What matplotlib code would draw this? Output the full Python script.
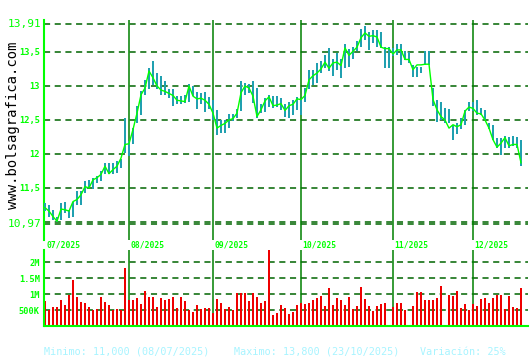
import matplotlib
matplotlib.use("Agg")
import matplotlib.pyplot as plt

# daily sessions 03/07/2025 .. 17/12/2025 (index 0..119)
closes = [
    11.21, 11.16, 11.08, 11.01, 11.19, 11.18, 11.16, 11.30, 11.33, 11.40,
    11.52, 11.50, 11.62, 11.65, 11.70, 11.82, 11.71, 11.77, 11.82, 11.94,
    12.14, 12.15, 12.36, 12.60, 12.87, 12.97, 13.22, 13.12, 13.00, 12.94,
    12.92, 12.89, 12.86, 12.79, 12.78, 12.77, 13.00, 12.85, 12.81, 12.82,
    12.79, 12.73, 12.60, 12.38, 12.42, 12.45, 12.50, 12.52, 12.60, 12.90,
    13.00, 12.97, 12.85, 12.55, 12.65, 12.78, 12.84, 12.71, 12.72, 12.74,
    12.64, 12.71, 12.73, 12.81, 12.80, 12.86, 13.09, 13.15, 13.19, 13.25,
    13.35, 13.26, 13.34, 13.35, 13.30, 13.56, 13.45, 13.51, 13.57, 13.71,
    13.78, 13.73, 13.74, 13.72, 13.57, 13.55, 13.55, 13.47, 13.53, 13.53,
    13.39, 13.39, 13.24, 13.31, 13.31, 13.32, 13.32, 12.80, 12.65, 12.55,
    12.50, 12.38, 12.43, 12.40, 12.43, 12.63, 12.69, 12.67, 12.60, 12.59,
    12.50, 12.38, 12.21, 12.10, 12.16, 12.24, 12.12, 12.14, 12.14, 11.87,
]
highs = [
    11.28, 11.25, 11.18, 11.08, 11.28, 11.29, 11.18, 11.30, 11.45, 11.45,
    11.60, 11.62, 11.65, 11.67, 11.75, 11.87, 11.87, 11.87, 11.89, 11.92,
    12.53, 12.19, 12.38, 12.70, 12.92, 13.09, 13.26, 13.36, 13.19, 13.14,
    13.07, 12.96, 12.96, 12.85, 12.85, 12.87, 13.03, 13.00, 12.91, 12.90,
    12.91, 12.84, 12.80, 12.65, 12.50, 12.50, 12.59, 12.59, 12.66, 13.08,
    13.04, 13.03, 13.07, 12.97, 12.73, 12.83, 12.86, 12.85, 12.85, 12.82,
    12.73, 12.77, 12.80, 12.84, 12.80, 12.97, 13.23, 13.23, 13.34, 13.36,
    13.45, 13.56, 13.39, 13.49, 13.39, 13.61, 13.54, 13.57, 13.66, 13.84,
    13.88, 13.80, 13.83, 13.83, 13.79, 13.58, 13.57, 13.56, 13.61, 13.62,
    13.51, 13.50, 13.31, 13.28, 13.28, 13.51, 13.51, 12.97, 12.80, 12.77,
    12.68, 12.66, 12.43, 12.45, 12.53, 12.65, 12.77, 12.77, 12.79, 12.68,
    12.65, 12.45, 12.43, 12.24, 12.24, 12.26, 12.25, 12.26, 12.25, 12.21,
]
lows = [
    11.16, 11.08, 11.03, 11.00, 11.03, 11.13, 11.06, 11.08, 11.25, 11.25,
    11.43, 11.50, 11.48, 11.57, 11.60, 11.70, 11.70, 11.71, 11.72, 11.79,
    12.01, 11.97, 12.14, 12.46, 12.58, 12.87, 12.95, 13.02, 12.95, 12.87,
    12.86, 12.82, 12.70, 12.73, 12.73, 12.75, 12.77, 12.85, 12.66, 12.73,
    12.61, 12.66, 12.50, 12.28, 12.31, 12.31, 12.38, 12.48, 12.53, 12.63,
    12.87, 12.89, 12.75, 12.53, 12.60, 12.61, 12.69, 12.68, 12.69, 12.65,
    12.54, 12.53, 12.58, 12.64, 12.58, 12.77, 12.95, 13.02, 13.04, 13.19,
    13.26, 13.22, 13.14, 13.23, 13.12, 13.26, 13.28, 13.40, 13.51, 13.58,
    13.68, 13.53, 13.63, 13.58, 13.56, 13.26, 13.27, 13.44, 13.45, 13.31,
    13.38, 13.34, 13.13, 13.13, 13.19, 13.31, 13.31, 12.71, 12.47, 12.50,
    12.45, 12.45, 12.20, 12.30, 12.36, 12.43, 12.63, 12.63, 12.58, 12.58,
    12.50, 12.36, 12.21, 12.09, 11.98, 12.09, 12.09, 12.12, 12.09, 11.82,
]
# volume in millions of shares
volumes = [
    0.77, 0.49, 0.59, 0.59, 0.80, 0.65, 0.96, 1.45, 0.90, 0.74,
    0.71, 0.59, 0.51, 0.52, 0.90, 0.74, 0.65, 0.49, 0.52, 0.49,
    1.83, 0.80, 0.80, 0.87, 0.68, 1.11, 0.90, 0.90, 0.59, 0.87,
    0.80, 0.84, 0.90, 0.56, 0.90, 0.77, 0.49, 0.43, 0.65, 0.52,
    0.56, 0.56, 0.40, 0.84, 0.71, 0.52, 0.59, 0.49, 1.03, 1.03,
    1.03, 0.77, 1.03, 0.90, 0.71, 0.77, 2.60, 0.34, 0.40, 0.65,
    0.56, 0.38, 0.43, 0.65, 0.71, 0.68, 0.71, 0.80, 0.87, 0.93,
    0.62, 1.18, 0.65, 0.87, 0.80, 0.65, 0.90, 0.52, 0.62, 1.21,
    0.84, 0.62, 0.46, 0.62, 0.68, 0.71, 0.03, 0.60, 0.71, 0.71,
    0.49, 0.03, 0.62, 1.06, 1.06, 0.80, 0.80, 0.80, 0.87, 1.24,
    0.03, 0.96, 0.93, 1.11, 0.56, 0.68, 0.49, 0.68, 0.62, 0.84,
    0.87, 0.71, 0.87, 0.96, 0.96, 0.52, 0.93, 0.59, 0.56, 1.18,
]
month_starts = [0, 21, 42, 64, 87, 107]
month_labels = ["07/2025", "08/2025", "09/2025", "10/2025", "11/2025", "12/2025"]
price_ticks = [11.5, 12, 12.5, 13, 13.5]
price_tick_labels = ["11,5", "12", "12,5", "13", "13,5"]
price_low, price_high = 10.97, 13.91
vol_ticks = [0.5, 1, 1.5, 2]
vol_tick_labels = ["500K", "1M", "1.5M", "2M"]

GREEN = "#00ff00"
DARK = "#006400"
MONTH = "#008000"
TEAL = "#20a0b0"
RED = "#ee0000"
MONO = "DejaVu Sans Mono"

W, H = 530, 360
fig = plt.figure(figsize=(W / 100, H / 100), dpi=100, facecolor="white")


def box(left, top, right, bottom):
    return [left / W, 1 - bottom / H, (right - left) / W, (bottom - top) / H]


x = list(range(len(closes)))
xlim = (-0.25, 120.75)

# price panel
ax = fig.add_axes(box(44, 20, 528, 240))
ax.set_xlim(*xlim)
ax.set_ylim(10.735, 13.97)
for v in price_ticks + [11.0, price_low, price_high]:
    ax.axhline(v, color=DARK, lw=1.1, ls=(0, (4, 3)), zorder=1)
for m in month_starts[1:]:
    ax.axvline(m, color=MONTH, lw=1.1, zorder=2)
ax.vlines(x, lows, highs, color=TEAL, lw=1.1, zorder=3, antialiased=False)
ax.plot(x, closes, color=GREEN, lw=1.0, zorder=4)
for s in ["top", "right", "bottom"]:
    ax.spines[s].set_visible(False)
ax.spines["left"].set_color(GREEN)
ax.spines["left"].set_linewidth(1.5)
ax.set_xticks([])
ax.set_yticks(price_ticks)
ax.set_yticklabels(price_tick_labels, family=MONO, fontsize=6.2,
                   fontweight="bold", color=GREEN)
ax.tick_params(axis="y", length=0, pad=3)
for v in (price_low, price_high):
    ax.text(-1.0, v, f"{v:.2f}".replace(".", ","), ha="right", va="center",
            family=MONO, fontsize=8, color=GREEN)
for m, lab in zip(month_starts, month_labels):
    ax.text(m + 0.4, 10.735, lab, ha="left", va="top", family=MONO,
            fontsize=5.8, fontweight="bold", color=GREEN, clip_on=False)

# volume panel
av = fig.add_axes(box(44, 250, 528, 326))
av.set_xlim(*xlim)
av.set_ylim(0, 2.38)
for v in vol_ticks:
    av.axhline(v, color=DARK, lw=1.1, ls=(0, (4, 3)), zorder=1)
for m in month_starts[1:]:
    av.axvline(m, color=MONTH, lw=1.1, zorder=2)
av.bar(x, volumes, width=0.3, color=RED, linewidth=0, zorder=3)
for s in ["top", "right"]:
    av.spines[s].set_visible(False)
for s in ["left", "bottom"]:
    av.spines[s].set_color(GREEN)
    av.spines[s].set_linewidth(1.5)
    av.spines[s].set_zorder(4)
av.set_xticks([])
av.set_yticks(vol_ticks)
av.set_yticklabels(vol_tick_labels, family=MONO, fontsize=6.2,
                   fontweight="bold", color=GREEN)
av.tick_params(axis="y", length=0, pad=3)

# watermark and summary line
fig.text(13 / W, 1 - 125 / H, "www.bolsagrafica.com", rotation=90,
         ha="center", va="center", family=MONO, fontsize=10, color="black")
summary = [(44, "Minimo: 11,000 (08/07/2025)"),
           (234, "Maximo: 13,800 (23/10/2025)"),
           (420, "Variación: 25%")]
for px, txt in summary:
    fig.text(px / W, 1 - 352 / H, txt, ha="left", va="center",
             family=MONO, fontsize=7.3, color="#a8f4ff")

fig.savefig("out.png", dpi=100, facecolor="white")
